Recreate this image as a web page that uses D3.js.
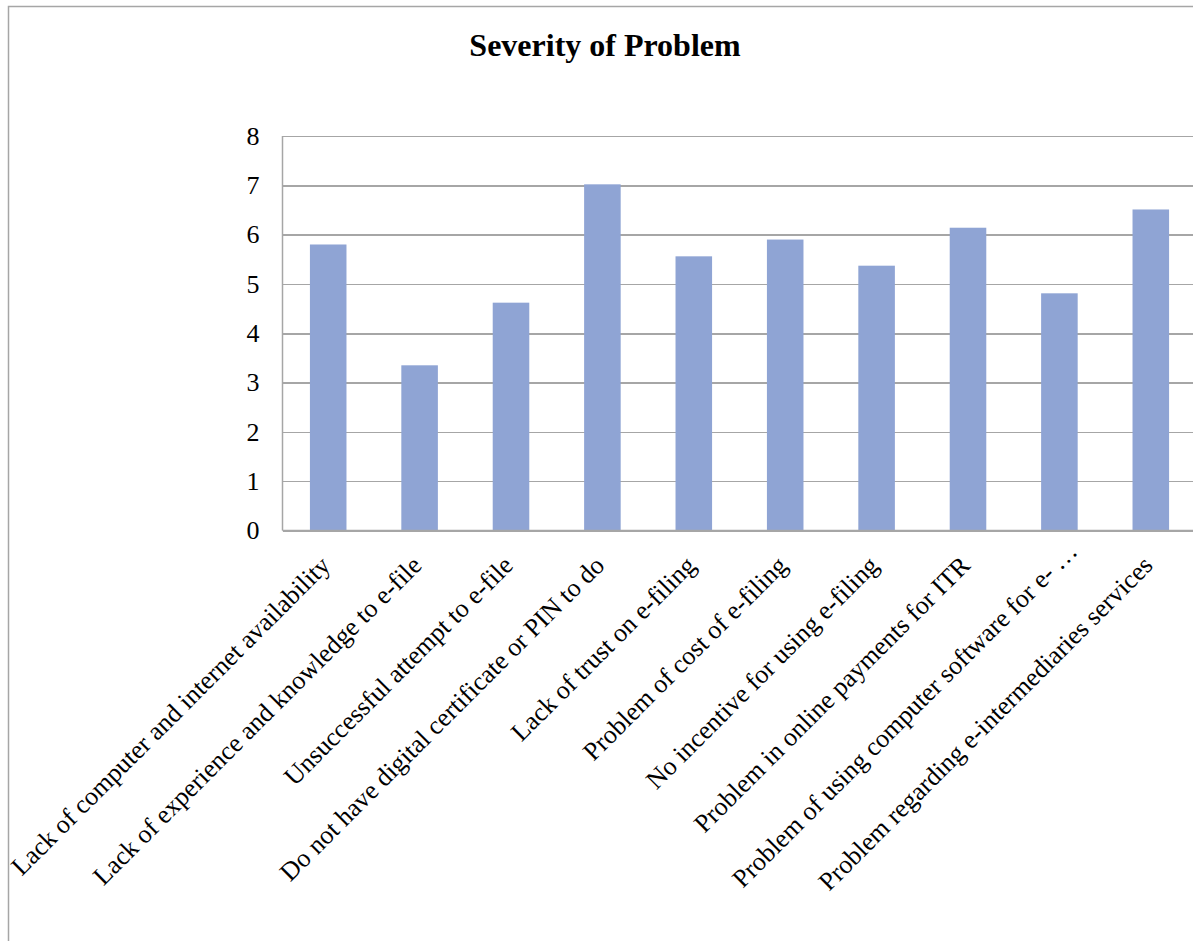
<!DOCTYPE html>
<html>
<head>
<meta charset="utf-8">
<script src="https://cdn.jsdelivr.net/npm/d3@7"></script>
<style>
  html, body { margin: 0; padding: 0; background: #fff; }
  svg { display: block; }
  text { font-family: "Liberation Serif", "Times New Roman", serif; fill: #000; }
</style>
</head>
<body>
<svg id="chart" width="1193" height="941"></svg>
<script>
const categories = [
  "Lack of computer and internet availability",
  "Lack of experience and knowledge to e-file",
  "Unsuccessful attempt to e-file",
  "Do not have digital certificate or PIN to do",
  "Lack of trust on e-filing",
  "Problem of cost of e-filing",
  "No incentive for using e-filing",
  "Problem in online payments for ITR",
  "Problem of using computer software for e-\u2026",
  "Problem regarding e-intermediaries services"
];
const severity = [5.80, 3.35, 4.62, 7.02, 5.56, 5.90, 5.37, 6.14, 4.81, 6.51];
const yTicks = [0, 1, 2, 3, 4, 5, 6, 7, 8];
const titleText = "Severity of Problem";

const svg = d3.select("#chart");
const W = 1193, H = 941;
const plot = { left: 282.5, right: 1196.5, top: 136, bottom: 530.5 };
const serif = "'Liberation Serif', 'Times New Roman', serif";

// chart border
svg.append("path")
  .attr("d", `M8.5,${H + 5} V6.5 H${W + 5}`)
  .attr("fill", "none")
  .attr("stroke", "#a6a6a6")
  .attr("stroke-width", 1.5);

// title
svg.append("text")
  .attr("x", 605)
  .attr("y", 56)
  .attr("text-anchor", "middle")
  .style("font-family", serif)
  .style("font-size", "32px")
  .style("font-weight", "bold")
  .text(titleText);

const x = d3.scaleBand()
  .domain(categories)
  .range([plot.left, plot.right])
  .paddingInner(0.6)
  .paddingOuter(0.3);

const y = d3.scaleLinear()
  .domain([0, 8])
  .range([plot.bottom, plot.top]);

// gridlines + y labels
const yAxis = d3.axisLeft(y)
  .tickValues(yTicks)
  .tickSize(-(plot.right - plot.left))
  .tickPadding(23)
  .tickFormat(d3.format("d"));

const gy = svg.append("g")
  .attr("transform", `translate(${plot.left},0)`)
  .call(yAxis);
gy.attr("font-family", null).attr("font-size", null);
gy.select(".domain").remove();
gy.selectAll(".tick line")
  .attr("stroke", "#a6a6a6")
  .attr("stroke-width", 1.5)
  .attr("shape-rendering", "crispEdges");
gy.selectAll(".tick text")
  .style("font-family", serif)
  .style("font-size", "26px")
  .attr("fill", "#000");

// left axis line
svg.append("line")
  .attr("x1", plot.left).attr("x2", plot.left)
  .attr("y1", plot.top).attr("y2", plot.bottom)
  .attr("stroke", "#a6a6a6")
  .attr("stroke-width", 1.5);

// bars
svg.append("g")
  .selectAll("rect")
  .data(severity)
  .join("rect")
  .attr("x", (d, i) => x(categories[i]))
  .attr("width", x.bandwidth())
  .attr("y", d => y(d))
  .attr("height", d => y(0) - y(d))
  .attr("fill", "#8fa4d4");

// bottom axis
const xAxis = d3.axisBottom(x).tickSize(0).tickPadding(0);
const gx = svg.append("g")
  .attr("transform", `translate(0,${plot.bottom})`)
  .call(xAxis);
gx.attr("font-family", null).attr("font-size", null);
gx.select(".domain")
  .attr("stroke", "#a6a6a6")
  .attr("stroke-width", 1.5)
  .attr("d", `M${plot.left},0H${plot.right}`);
gx.selectAll(".tick text")
  .style("font-family", serif)
  .style("font-size", "26px")
  .attr("fill", "#000")
  .attr("text-anchor", "end")
  .attr("dy", "0.35em")
  .each(function(d) {
    const t = d3.select(this);
    const truncated = d.endsWith("\u2026");
    if (truncated) {
      t.text(null);
      t.append("tspan").text(d.slice(0, -1));
      t.append("tspan").attr("dx", 6).text("\u2026");
      t.attr("transform", "translate(13,16) rotate(-45)");
    } else {
      t.attr("transform", "translate(-3,30) rotate(-45)");
    }
  });
</script>
</body>
</html>
